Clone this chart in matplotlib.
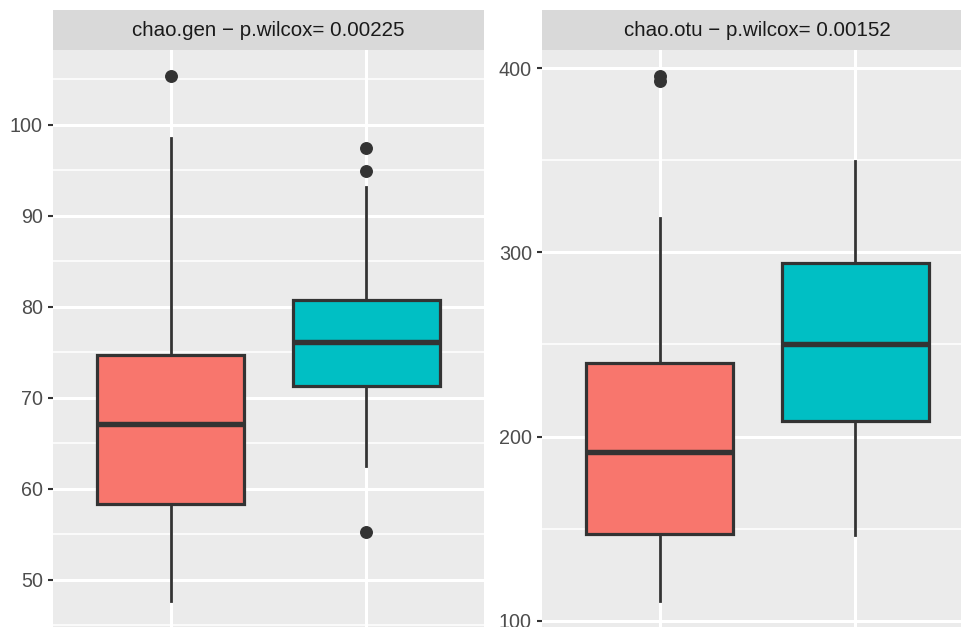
import matplotlib
matplotlib.use("Agg")
import matplotlib.pyplot as plt

plt.rcParams['font.family'] = ['Liberation Sans', 'DejaVu Sans']

# box statistics: whislo, q1, med, q3, whishi, outliers
groups = ["a", "b"]
fill_colors = ["#F8766D", "#00BFC4"]

gen_title = "chao.gen \u2212 p.wilcox= 0.00225"
gen_whislo = [47.7, 62.5]
gen_q1 = [58.3, 71.3]
gen_med = [67.1, 76.1]
gen_q3 = [74.7, 80.7]
gen_whishi = [98.5, 93.2]
gen_fliers = [[105.3], [97.4, 94.9, 55.2]]
gen_ticks = [50, 60, 70, 80, 90, 100]

otu_title = "chao.otu \u2212 p.wilcox= 0.00152"
otu_whislo = [110.8, 146.7]
otu_q1 = [147.2, 208.7]
otu_med = [191.8, 250.1]
otu_q3 = [239.8, 294.4]
otu_whishi = [318.5, 349.5]
otu_fliers = [[395.7, 393.2], []]
otu_ticks = [100, 200, 300, 400]

W, H = 962, 627
fig = plt.figure(figsize=(W / 100, H / 100), dpi=100)


def make_stats(whislo, q1, med, q3, whishi, fliers):
    out = []
    for i in range(len(med)):
        out.append(dict(whislo=whislo[i], q1=q1[i], med=med[i], q3=q3[i],
                        whishi=whishi[i], fliers=fliers[i], label=groups[i]))
    return out


def panel(x0, title, stats, ticks, ylim):
    ax = fig.add_axes([x0 / W, 0, 431 / W, 577 / H])
    ax.set_facecolor("#EBEBEB")
    for s in ax.spines.values():
        s.set_visible(False)

    # grid
    step = ticks[1] - ticks[0]
    minors = [t + step / 2 for t in [ticks[0] - step] + ticks]
    for m in minors:
        ax.axhline(m, color="white", lw=1.1, zorder=0)
    for t in ticks:
        ax.axhline(t, color="white", lw=2.2, zorder=0)
    for x in [1, 2]:
        ax.axvline(x, color="white", lw=2.2, zorder=0)

    bp = ax.bxp(stats, positions=[1, 2], widths=0.75, patch_artist=True,
                showcaps=False,
                boxprops=dict(edgecolor="#333333", linewidth=2.3),
                whiskerprops=dict(color="#333333", linewidth=2.0),
                medianprops=dict(color="#333333", linewidth=3.9, solid_capstyle="butt"),
                flierprops=dict(marker="o", markerfacecolor="#333333",
                                markeredgecolor="#333333", markersize=8.3))
    for patch, c in zip(bp["boxes"], fill_colors):
        patch.set_facecolor(c)
        patch.set_zorder(2)

    ax.set_xlim(0.4, 2.6)
    ax.set_ylim(*ylim)
    ax.set_yticks(ticks)
    ax.set_xticks([])
    ax.tick_params(axis="y", length=3.8, width=1.5, color="#333333",
                   labelsize=14.2, labelcolor="#4D4D4D", pad=3.5)

    strip = fig.add_axes([x0 / W, (H - 50) / H, 431 / W, 40 / H])
    strip.set_facecolor("#D9D9D9")
    strip.set_xticks([])
    strip.set_yticks([])
    for s in strip.spines.values():
        s.set_visible(False)
    strip.text(0.5, 0.5, title, ha="center", va="center", fontsize=14.8,
               color="#1A1A1A", transform=strip.transAxes)
    return ax


panel(53, gen_title,
      make_stats(gen_whislo, gen_q1, gen_med, gen_q3, gen_whishi, gen_fliers),
      gen_ticks, (44.8, 108.2))
panel(542, otu_title,
      make_stats(otu_whislo, otu_q1, otu_med, otu_q3, otu_whishi, otu_fliers),
      otu_ticks, (96.6, 409.9))

fig.savefig("out.png", dpi=100, facecolor="white")
